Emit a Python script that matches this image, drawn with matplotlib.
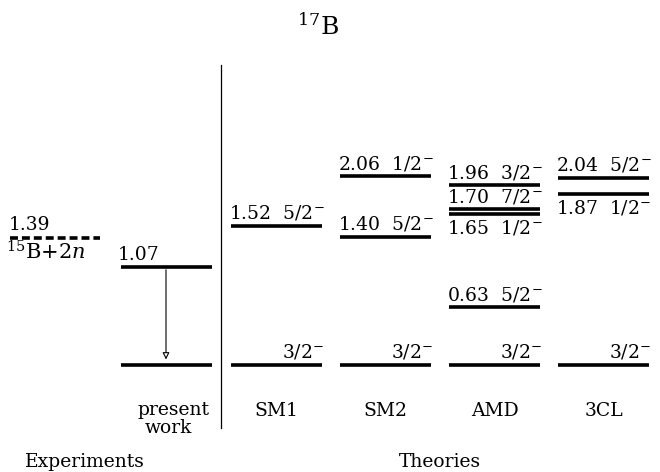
import matplotlib.pyplot as plt

plt.rcParams['font.family'] = 'DejaVu Serif'
plt.rcParams['mathtext.fontset'] = 'dejavuserif'

# level energies in MeV
threshold = 1.39
exp_levels = [0.0, 1.07]

theory_names = ['SM1', 'SM2', 'AMD', '3CL']
theory_levels = {
    'SM1': [0.0, 1.52],
    'SM2': [0.0, 1.40, 2.06],
    'AMD': [0.0, 0.63, 1.65, 1.70, 1.96],
    '3CL': [0.0, 1.87, 2.04],
}
theory_spins = {
    'SM1': ['3/2', '5/2'],
    'SM2': ['3/2', '5/2', '1/2'],
    'AMD': ['3/2', '5/2', '1/2', '7/2', '3/2'],
    '3CL': ['3/2', '1/2', '5/2'],
}
# where the text sits relative to the bar
label_pos = {
    'SM1': ['gs', 'above'],
    'SM2': ['gs', 'above', 'above'],
    'AMD': ['gs', 'above', 'below', 'above', 'above'],
    '3CL': ['gs', 'below', 'above'],
}

px = 91.6   # pixels per MeV
y0 = 365    # ground state pixel row
H = 472

fig = plt.figure(figsize=(6.6, 4.72), dpi=100)
ax = fig.add_axes([0, 0, 1, 1])
ax.set_xlim(0, 660)
ax.set_ylim(-(H - y0) / px, y0 / px)
ax.axis('off')

def ypix(p):
    # pixel row -> data y
    return (y0 - p) / px

lw = 2.6
fs = 13.5

# experiment column
ax.plot([10, 100], [threshold, threshold], color='black', lw=lw,
        dashes=(2.2, 1.1), solid_capstyle='butt')
ax.text(9, threshold + 0.04, f'{threshold:.2f}', fontsize=fs, va='bottom', ha='left')
ax.text(6, threshold - 0.03, r'$^{15}$B+2$n$', fontsize=fs + 1.5, va='top', ha='left')

for e in exp_levels:
    ax.plot([121, 212], [e, e], color='black', lw=lw, solid_capstyle='butt')
ax.text(118, exp_levels[1] + 0.03, f'{exp_levels[1]:.2f}', fontsize=fs,
        va='bottom', ha='left')
ax.annotate('', xy=(166, exp_levels[0] + 0.03), xytext=(166, exp_levels[1]),
            arrowprops=dict(arrowstyle='-|>', color='black', lw=0.8,
                            fc='white', mutation_scale=10))

# separator
ax.plot([221, 221], [ypix(65), ypix(428)], color='black', lw=0.9)

# theory columns
x_left = {'SM1': 231, 'SM2': 340, 'AMD': 449, '3CL': 558}
width = 91
for name in theory_names:
    x1 = x_left[name]
    x2 = x1 + width
    for e, j, pos in zip(theory_levels[name], theory_spins[name], label_pos[name]):
        ax.plot([x1, x2], [e, e], color='black', lw=lw, solid_capstyle='butt')
        spin = j + r'$^{-}$'
        if pos == 'gs':
            ax.text(x2 + 2, e + 0.04, spin, fontsize=fs, ha='right', va='bottom')
        elif pos == 'above':
            ax.text(x1 - 2, e + 0.035, f'{e:.2f}  ' + spin, fontsize=fs,
                    ha='left', va='bottom')
        else:
            ax.text(x1 - 2, e - 0.05, f'{e:.2f}  ' + spin, fontsize=fs,
                    ha='left', va='top')
    ax.text(x1 + width / 2, ypix(411), name, fontsize=fs, ha='center', va='center')

ax.text(173, ypix(410), 'present', fontsize=fs, ha='center', va='center')
ax.text(168, ypix(428), 'work', fontsize=fs, ha='center', va='center')

ax.text(85, ypix(462), 'Experiments', fontsize=fs, ha='center', va='center')
ax.text(440, ypix(462), 'Theories', fontsize=fs, ha='center', va='center')

ax.text(318, ypix(26), r'$^{17}$B', fontsize=18, ha='center', va='center')

fig.savefig('out.png', dpi=100)
